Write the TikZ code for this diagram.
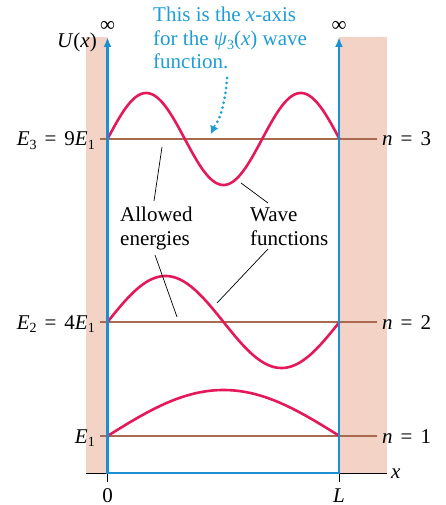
\documentclass[tikz,border=0pt]{standalone}
\usepackage{fontspec}
\setmainfont{Liberation Serif}
\usetikzlibrary{arrows.meta}
\definecolor{wallpink}{HTML}{F2D3C6}
\definecolor{wallblue}{HTML}{1B8FD2}
\definecolor{callblue}{HTML}{1E9CD7}
\definecolor{wavered}{HTML}{E5195A}
\definecolor{levelbrown}{HTML}{A96A50}
\newcommand\mysub[1]{\raisebox{-0.4ex}{\fontsize{14}{14}\selectfont #1}}
\newcommand\myeq{\hspace{0.38em}=\hspace{0.38em}}
\tikzset{
  wall/.style={wallblue, line width=2.6pt},
  level/.style={levelbrown, line width=2pt},
  wave/.style={wavered, line width=2.6pt},
  leader/.style={black, line width=0.7pt},
  lbl/.style={inner sep=0pt, font=\fontsize{21}{23}\selectfont},
  txtblock/.style={inner sep=0pt, align=left, font=\fontsize{21}{23.5}\selectfont},
}
\begin{document}
\begin{tikzpicture}[x=1pt,y=-1pt]
\useasboundingbox (0,0) rectangle (446,505);
% walls
\fill[wallpink] (86,37) rectangle (107,473);
\fill[wallpink] (339,37) rectangle (387,473);
% axis
\coordinate (ax0) at (86,473);
\coordinate (ax1) at (387,473);
\coordinate (o) at (107.5,473);
\coordinate (lL) at (339,473);
\coordinate (ot) at (107.5,482);
\coordinate (lLt) at (339,482);
\draw[black, line width=0.8pt] (ax0) -- (ax1);
\draw[black, line width=0.8pt] (o) -- (ot);
\draw[black, line width=0.8pt] (lL) -- (lLt);
\node[lbl, anchor=base] (zero) at (107.5,502) {0};
\node[lbl, anchor=base] (Lbl) at (339,502) {\textit{L}};
\node[lbl, anchor=base west] (xl) at (391,478) {\textit{x}};
% energy levels
\coordinate (l3a) at (100,139); \coordinate (l3b) at (377,139);
\coordinate (l2a) at (100,322); \coordinate (l2b) at (377,322);
\coordinate (l1a) at (100,436); \coordinate (l1b) at (377,436);
\draw[level] (l3a) -- (l3b);
\draw[level] (l2a) -- (l2b);
\draw[level] (l1a) -- (l1b);
% waves
\draw[wave] plot[domain=0:232, samples=120, smooth] ({107.5+\x}, {436-46*sin(0.775862*\x)});
\draw[wave] plot[domain=0:232, samples=120, smooth] ({107.5+\x}, {322-46*sin(1.551724*\x)});
\draw[wave] plot[domain=0:232, samples=150, smooth] ({107.5+\x}, {139-46*sin(2.327586*\x)});
% blue walls
\coordinate (wlt) at (107.5,37);
\coordinate (wrt) at (339,37);
\draw[wall, -{Latex[length=10pt,width=8pt]}] (o) -- (wlt);
\draw[wall, -{Latex[length=10pt,width=8pt]}] (lL) -- (wrt);
\draw[wall, line cap=rect] (o) -- (lL);
\node[lbl, anchor=center] (infl) at (107.5,26) {∞};
\node[lbl, anchor=center] (infr) at (339,26) {∞};
\node[lbl, anchor=base east] (Ux) at (97,48) {\textit{U}(\textit{x})};
% level labels
\node[lbl, anchor=base east] (E3) at (95,146) {\textit{E}\mysub{3}\myeq9\textit{E}\mysub{1}};
\node[lbl, anchor=base east] (E2) at (95,329) {\textit{E}\mysub{2}\myeq4\textit{E}\mysub{1}};
\node[lbl, anchor=base east] (E1) at (95,443) {\textit{E}\mysub{1}};
\node[lbl, anchor=base west] (n3) at (382,146) {\textit{n}\myeq3};
\node[lbl, anchor=base west] (n2) at (382,329) {\textit{n}\myeq2};
\node[lbl, anchor=base west] (n1) at (382,443) {\textit{n}\myeq1};
% annotations
\node[txtblock, anchor=base west] (allowed) at (120,245) {Allowed\\energies};
\node[txtblock, anchor=base west] (wavef) at (250,245) {Wave\\functions};
\coordinate (a1) at (154,201); \coordinate (a1e) at (162,147);
\coordinate (a2) at (155,255); \coordinate (a2e) at (177,317);
\coordinate (w1) at (268,203); \coordinate (w1e) at (241,183);
\coordinate (w2) at (268,249); \coordinate (w2e) at (217,303);
\draw[leader] (a1) -- (a1e);
\draw[leader] (a2) -- (a2e);
\draw[leader] (w1) -- (w1e);
\draw[leader] (w2) -- (w2e);
% callout
\node[txtblock, anchor=base west, text=callblue] (call) at (153,69) {This is the \textit{x}-axis\\for the \textit{ψ}\mysub{3}(\textit{x}) wave\\function.};
\coordinate (c0) at (227,78);
\coordinate (c1) at (211,134);
\draw[callblue, line width=3pt, dash pattern=on 0pt off 5pt, line cap=round] (c0) .. controls (225,105) and (220,118) .. (215,126);
\draw[callblue, line width=1.5pt, -{Latex[length=8pt,width=9pt]}] (215,125) -- (c1);
\end{tikzpicture}
\end{document}
